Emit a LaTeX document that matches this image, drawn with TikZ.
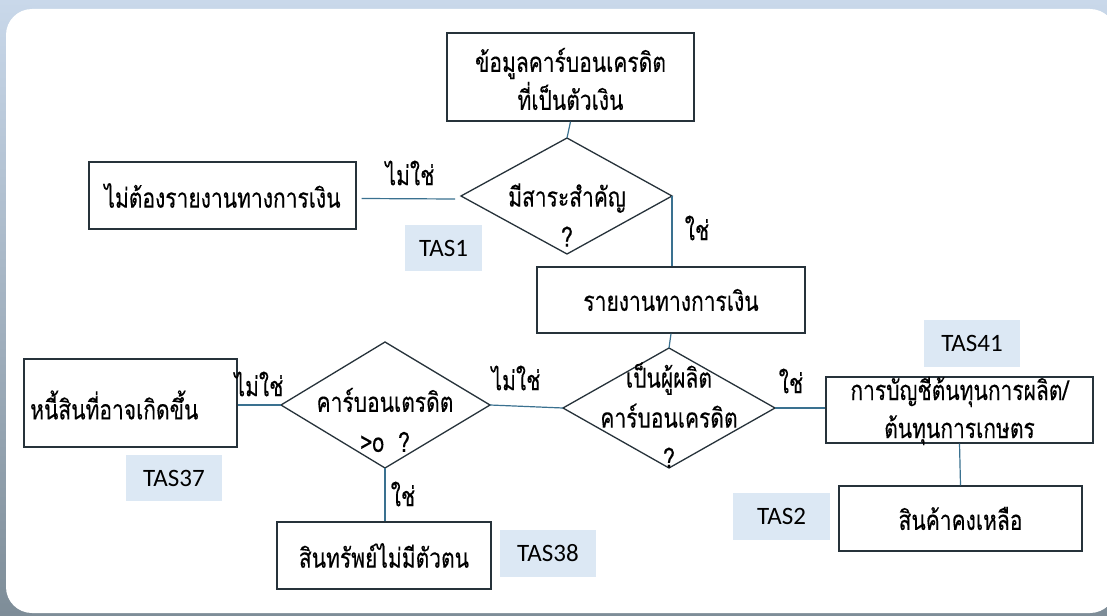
\documentclass[tikz,border=0pt]{standalone}
\usepackage{fontspec}
\usepackage{graphicx}
\newfontfamily\thaifont[Script=Thai, FakeBold=0.3]{Loma}
\newfontfamily\latfont{Carlito}
\newcommand\talltext[1]{\scalebox{1}[1.3]{#1}}
\definecolor{conn}{HTML}{3A7190}
\definecolor{edgec}{HTML}{26323A}
\definecolor{tasfill}{HTML}{DCE8F4}
\definecolor{bgtop}{HTML}{C9D8EA}
\definecolor{bgmid}{HTML}{A3B3B2}
\definecolor{bgbot}{HTML}{7E8D98}
\begin{document}
\begin{tikzpicture}[x=1pt,y=-1pt,
  box/.style={draw=edgec, line width=1.3pt, fill=white, inner sep=0pt},
  dia/.style={draw=edgec, line width=1.3pt, fill=white},
  tas/.style={fill=tasfill, inner sep=0pt, font=\latfont\fontsize{25}{30}\selectfont},
  txt/.style={font=\thaifont\fontsize{21}{38}\selectfont, align=center, inner sep=0pt},
  dtxt/.style={font=\thaifont\fontsize{21}{40}\selectfont, align=center, inner sep=0pt},
  lbl/.style={font=\thaifont\fontsize{21}{24}\selectfont, inner sep=0pt},
  conline/.style={draw=conn, line width=1.2pt}]
\useasboundingbox (0,0) rectangle (1107,615);
\shade[top color=bgtop, middle color=bgmid, bottom color=bgbot] (0,0) rectangle (1107,615);
\fill[white, rounded corners=26pt] (6,9) rectangle (1116,613);

% boxes
\node[box, minimum width=247, minimum height=88] (top) at (570.5,77) {};
\node[txt] (toptxt) at (570.5,79) {\talltext{ข้อมูลคาร์บอนเครดิต}\\\talltext{ที่เป็นตัวเงิน}};

\node[box, minimum width=267, minimum height=67] (nofin) at (222.5,195.5) {};
\node[txt] (nofintxt) at (nofin.center) {\talltext{ไม่ต้องรายงานทางการเงิน}};

\node[box, minimum width=268, minimum height=66] (fin) at (671,300) {};
\node[txt] (fintxt) at (fin.center) {\talltext{รายงานทางการเงิน}};

\node[box, minimum width=267, minimum height=66] (cost) at (959.5,410) {};
\node[txt] (costtxt) at (959.5,411) {\talltext{การบัญชีต้นทุนการผลิต/}\\\talltext{ต้นทุนการเกษตร}};

\node[box, minimum width=243, minimum height=65] (inv) at (960.5,518.5) {};
\node[txt] (invtxt) at (inv.center) {\talltext{สินค้าคงเหลือ}};

\node[box, minimum width=213, minimum height=88] (liab) at (130.5,403) {};
\node[txt, anchor=west] (liabtxt) at (30,405) {\talltext{หนี้สินที่อาจเกิดขึ้น}};

\node[box, minimum width=214, minimum height=67] (intan) at (384,555.5) {};
\node[txt] (intantxt) at (intan.center) {\talltext{สินทรัพย์ไม่มีตัวตน}};

% diamonds
\path[dia] (461,196) coordinate (d1w) -- (567,138) coordinate (d1n) -- (672,196) coordinate (d1e) -- (567,254) coordinate (d1s) -- cycle;
\node[dtxt] (d1txt) at (567,215) {\talltext{มีสาระสำคัญ}\\\talltext{?}};

\path[dia] (563,408) coordinate (d2w) -- (669,348) coordinate (d2n) -- (775,408) coordinate (d2e) -- (669,468) coordinate (d2s) -- cycle;
\node[dtxt] (d2txt) at (669,415) {\talltext{เป็นผู้ผลิต}\\\talltext{คาร์บอนเครดิต}\\\talltext{?}};

\path[dia] (281,405) coordinate (d3w) -- (385,342) coordinate (d3n) -- (490,405) coordinate (d3e) -- (385,468) coordinate (d3s) -- cycle;
\node[dtxt] (d3txt) at (385,420) {\talltext{คาร์บอนเตรดิต}\\\talltext{>o\ \ ?}};

% TAS tags
\node[tas, minimum width=77, minimum height=46] (tas1) at (443.5,248) {TAS1};
\node[tas, minimum width=96, minimum height=47] (tas41) at (972,343.5) {TAS41};
\node[tas, minimum width=97, minimum height=47] (tas2) at (781.5,516.5) {TAS2};
\node[tas, minimum width=96, minimum height=46] (tas37) at (174,478) {TAS37};
\node[tas, minimum width=96, minimum height=47] (tas38) at (548,553.5) {TAS38};

% connectors
\draw[conline] (nofin.east) ++(5,3) coordinate (c1) (c1) -- (455,199) coordinate (c2);
\draw[conline] (top.south) -- (d1n);
\draw[conline] (d1e) -- (d1e |- fin.north);
\draw[conline] (fin.south) -- (d2n);
\draw[conline] (d2e) -- (cost.west |- d2e);
\draw[conline] (cost.south) -- (inv.north);
\draw[conline] (d3e) -- (d2w);
\draw[conline] (d3w) -- (liab.east |- d3w);
\draw[conline] (d3s) -- (intan.north -| d3s);

% labels
\node[lbl] (l1) at (410,173) {\talltext{ไม่ใช่}};
\node[lbl] (l2) at (697,228) {\talltext{ใช่}};
\node[lbl] (l3) at (791,381) {\talltext{ใช่}};
\node[lbl] (l4) at (516,378) {\talltext{ไม่ใช่}};
\node[lbl] (l5) at (259,384) {\talltext{ไม่ใช่}};
\node[lbl] (l6) at (403,494) {\talltext{ใช่}};
\end{tikzpicture}
\end{document}
